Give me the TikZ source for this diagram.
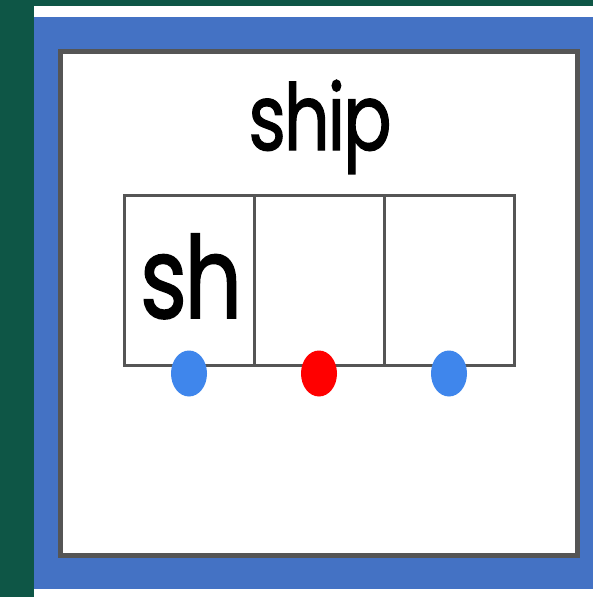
\documentclass[tikz,border=0pt]{standalone}
\usepackage{fontspec}
\setmainfont{Poppins}[FakeBold=1.5,LetterSpace=-3]
\usetikzlibrary{shapes.geometric}
\definecolor{bggreen}{HTML}{0E5646}
\definecolor{frameblue}{HTML}{4472C4}
\definecolor{edgegray}{HTML}{555555}
\definecolor{dotblue}{HTML}{3F86EC}
\definecolor{dotred}{HTML}{FF0000}
\begin{document}
\begin{tikzpicture}[x=1pt,y=-1pt,
  cell/.style={draw=edgegray,line width=3pt,minimum width=130pt,minimum height=170pt,inner sep=0pt},
  dot/.style={ellipse,minimum width=36pt,minimum height=46pt,inner sep=0pt},
  word/.style={anchor=base,inner sep=0pt}]
\useasboundingbox (0,0) rectangle (593,597);
\fill[bggreen] (0,0) rectangle (593,597);
\fill[white] (34,6) rectangle (593,17);
\fill[white] (34,589) rectangle (593,597);
\fill[frameblue] (34,17) rectangle (593,589);
\draw[edgegray,line width=5pt,fill=white] (60,51) rectangle (577,555);
\node[word,font=\fontsize{92}{92}\selectfont,xscale=0.78] (title) at (320,150) {ship};
\node[cell] (c1) at (189,280) {};
\node[cell] (c2) at (319,280) {};
\node[cell] (c3) at (449,280) {};
\node[word,font=\fontsize{114}{114}\selectfont,xscale=0.79] (sh) at (191,318) {sh};
\node[dot,fill=dotblue] (d1) at ([yshift=-7pt]c1.south) {};
\node[dot,fill=dotred] (d2) at ([yshift=-7pt]c2.south) {};
\node[dot,fill=dotblue] (d3) at ([yshift=-7pt]c3.south) {};
\end{tikzpicture}
\end{document}
